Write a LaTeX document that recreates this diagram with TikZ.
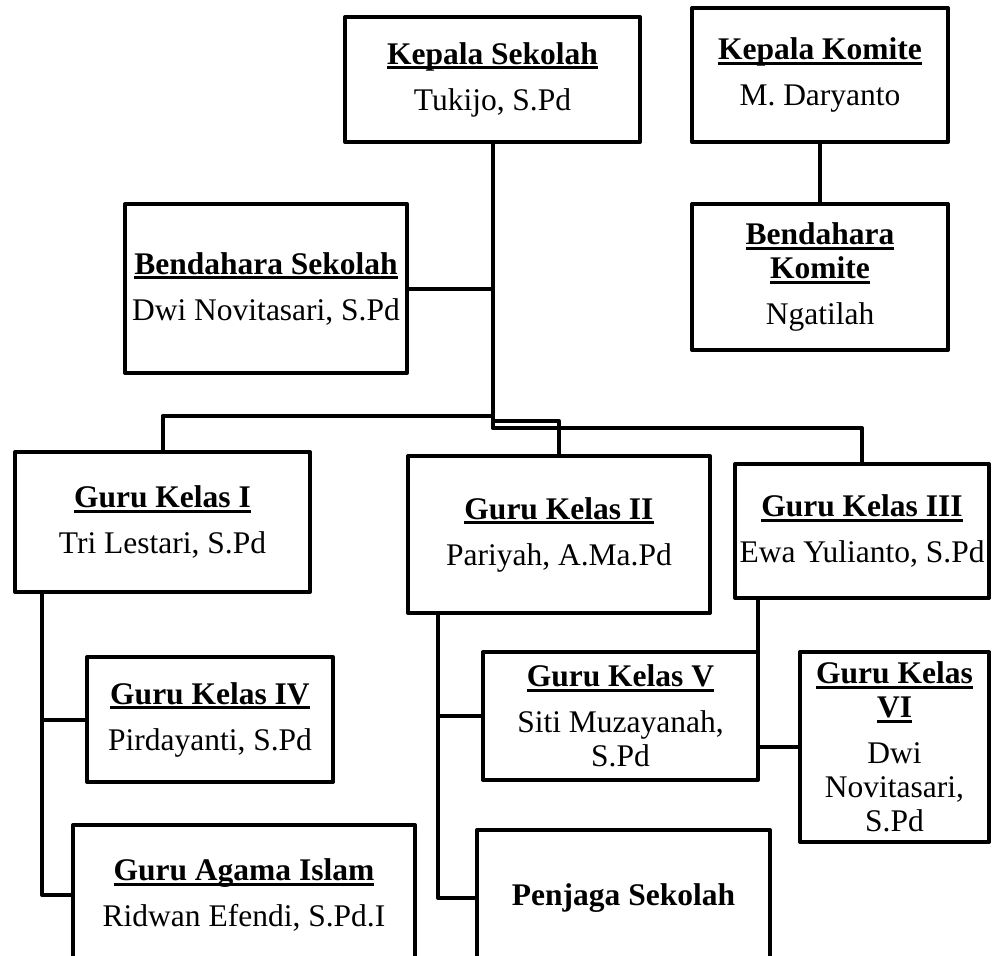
\documentclass[tikz,border=0pt]{standalone}
\usepackage{fontspec}
\setmainfont{Liberation Serif}
\usepackage{tikz}
\usetikzlibrary{positioning}

% judul bergaris bawah
\newcommand{\garis}[1]{\setbox0\hbox{\bfseries #1}\rlap{\rule[-5pt]{\wd0}{2.6pt}}\box0}

\begin{document}
\begin{tikzpicture}[x=1pt,y=-1pt,line width=4pt,line join=round]
  \tikzstyle{jabatan}=[draw,rectangle,align=center,inner sep=2pt,
                       font=\fontsize{31.5}{34}\selectfont]

  \useasboundingbox (0,0) rectangle (992,955);
  \clip (0,0) rectangle (992,955);

  \node[jabatan,minimum width=295pt,minimum height=125pt] (ks) at (492.5,79.5)
       {\garis{Kepala Sekolah}\\[12pt]Tukijo, S.Pd};
  \node[jabatan,minimum width=256pt,minimum height=134pt] (kk) at (820,75)
       {\garis{Kepala Komite}\\[12pt]M. Daryanto};
  \node[jabatan,minimum width=256pt,minimum height=146pt] (bk) at (820,277)
       {\garis{Bendahara}\\\garis{Komite}\\[12pt]Ngatilah};
  \node[jabatan,minimum width=282pt,minimum height=169pt] (bs) at (266,288.5)
       {\garis{Bendahara Sekolah}\\[12pt]Dwi Novitasari, S.Pd};

  \node[jabatan,minimum width=295pt,minimum height=140pt] (gk1) at (162.5,522)
       {\garis{Guru Kelas I}\\[12pt]Tri Lestari, S.Pd};
  \node[jabatan,minimum width=302pt,minimum height=157pt] (gk2) at (559,534.5)
       {\garis{Guru Kelas II}\\[12pt]Pariyah, A.Ma.Pd};
  \node[jabatan,minimum width=254pt,minimum height=134pt] (gk3) at (862,531)
       {\garis{Guru Kelas III}\\[12pt]Ewa Yulianto, S.Pd};

  \node[jabatan,minimum width=246pt,minimum height=125pt] (gk4) at (210,719.5)
       {\garis{Guru Kelas IV}\\[12pt]Pirdayanti, S.Pd};
  \node[jabatan,minimum width=342pt,minimum height=140pt] (gag) at (244,895)
       {\garis{Guru Agama Islam}\\[12pt]Ridwan Efendi, S.Pd.I};
  \node[jabatan,minimum width=275pt,minimum height=128pt] (gk5) at (620.5,716)
       {\garis{Guru Kelas V}\\[12pt]Siti Muzayanah,\\S.Pd};
  \node[jabatan,minimum width=189pt,minimum height=190pt] (gk6) at (894.5,747)
       {\garis{Guru Kelas}\\\garis{VI}\\[12pt]Dwi\\Novitasari,\\S.Pd};
  \node[jabatan,minimum width=293pt,minimum height=136pt] (pj) at (623.5,898)
       {\textbf{Penjaga Sekolah}};

  % titik cabang pada garis utama
  \coordinate (simpulA) at (492.5,416);
  \coordinate (simpulC) at (492.5,421);
  \coordinate (simpulB) at (492.5,428);

  \draw (ks.south) -- (simpulB) -| (gk3.north);
  \draw (simpulA) -| (gk1.north);
  \draw (simpulC) -| (gk2.north);
  \draw (bs.east) -- (bs.east -| ks.south);
  \draw (kk) -- (bk);

  \draw ([xshift=29pt]gk1.south west) |- (gk4.west);
  \draw ([xshift=29pt]gk1.south west) |- (gag.west);
  \draw ([xshift=32pt]gk2.south west) |- (gk5.west);
  \draw ([xshift=32pt]gk2.south west) |- (pj.west);
  \draw ([xshift=25pt]gk3.south west) |- (gk6.west);

\end{tikzpicture}
\end{document}
